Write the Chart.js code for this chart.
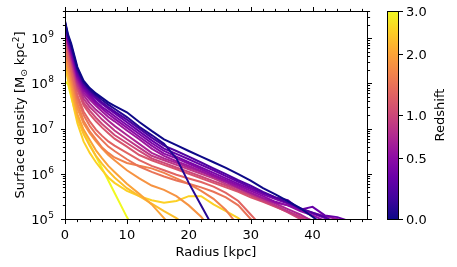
<!DOCTYPE html>
<html>
<head>
<meta charset="utf-8">
<script src="https://cdn.jsdelivr.net/npm/chart.js@4.4.1/dist/chart.umd.min.js"></script>
<style>
  html, body { margin: 0; padding: 0; background: #fff; }
</style>
</head>
<body>
<canvas id="profiles" width="457" height="267"></canvas>
<script>
// radius grid [kpc]
const radius = [0, 0.5, 1, 1.5, 2, 3, 4, 5, 6, 7, 8, 10, 12, 14, 16, 18, 20, 22, 24, 26, 28, 30, 32, 34, 36, 38, 40, 42, 44, 46];

const redshifts = [0.0, 0.07, 0.2, 0.3, 0.4, 0.5, 0.6, 0.7, 0.85, 1.0, 1.15, 1.3, 1.45, 1.6, 1.8, 2.0, 2.3, 2.5, 3.0];

// surface density [Msun / kpc^2], one array per snapshot
const sigmaZ000 = [2.4e9, 1.2e9, 7.6e8, 4.2e8, 2.3e8, 1.15e8, 7.9e7, 6.0e7, 4.8e7, 3.8e7, 3.2e7, 2.3e7, 1.4e7, 8.9e6, 5.8e6, 4.3e6, 3.2e6, 2.4e6, 1.8e6, 1.35e6, 9.8e5, 7.1e5, 4.8e5, 3.5e5, 2.5e5, 1.74e5, 1.12e5, 7.1e4];
const sigmaZ007 = [2.3e9, 1.1e9, 6.9e8, 3.8e8, 2.1e8, 1.05e8, 7.2e7, 5.5e7, 4.3e7, 3.4e7, 2.75e7, 1.8e7, 1.1e7, 7.2e6, 4.6e6, 2.2e6, 6.3e5, 2.0e5, 6.3e4];
const sigmaZ020 = [2.2e9, 1.0e9, 6.3e8, 3.5e8, 1.86e8, 9.5e7, 6.6e7, 5.0e7, 3.8e7, 3.0e7, 2.4e7, 1.58e7, 1.0e7, 6.3e6, 4.2e6, 3.2e6, 2.4e6, 1.78e6, 1.32e6, 9.8e5, 7.2e5, 5.5e5, 4.0e5, 3.0e5, 2.3e5, 1.74e5, 1.38e5, 1.1e5, 7.9e4];
const sigmaZ030 = [2.1e9, 9.3e8, 5.8e8, 3.2e8, 1.66e8, 8.7e7, 6.0e7, 4.6e7, 3.5e7, 2.75e7, 2.2e7, 1.38e7, 8.7e6, 5.5e6, 3.6e6, 2.75e6, 2.1e6, 1.58e6, 1.2e6, 8.9e5, 6.6e5, 5.0e5, 3.8e5, 3.0e5, 2.6e5, 1.6e5, 1.86e5, 1.2e5, 1.1e5, 8.9e4];
const sigmaZ040 = [2.0e9, 8.9e8, 5.2e8, 2.9e8, 1.5e8, 7.9e7, 5.5e7, 4.0e7, 3.0e7, 2.4e7, 1.9e7, 1.2e7, 7.6e6, 4.8e6, 3.2e6, 2.4e6, 1.8e6, 1.38e6, 1.05e6, 7.9e5, 6.0e5, 4.6e5, 3.5e5, 2.75e5, 2.2e5, 1.66e5, 1.32e5, 1.05e5, 7.9e4];
const sigmaZ050 = [1.9e9, 8.3e8, 4.8e8, 2.6e8, 1.38e8, 7.2e7, 5.0e7, 3.6e7, 2.75e7, 2.1e7, 1.66e7, 1.05e7, 6.6e6, 4.2e6, 2.8e6, 2.2e6, 1.66e6, 1.26e6, 9.5e5, 7.2e5, 5.5e5, 4.2e5, 3.2e5, 2.4e5, 2.0e5, 1.5e5, 1.2e5, 9.1e4];
const sigmaZ060 = [1.8e9, 7.9e8, 4.5e8, 2.4e8, 1.26e8, 6.3e7, 4.4e7, 3.2e7, 2.4e7, 1.8e7, 1.45e7, 9.1e6, 5.8e6, 3.6e6, 2.5e6, 1.9e6, 1.5e6, 1.15e6, 8.7e5, 6.6e5, 5.0e5, 3.8e5, 2.9e5, 2.3e5, 2.0e5, 1.66e5, 1.38e5, 1.15e5, 1.0e5, 7.9e4];
const sigmaZ070 = [1.74e9, 7.2e8, 4.0e8, 2.1e8, 1.1e8, 5.5e7, 3.6e7, 2.6e7, 2.0e7, 1.5e7, 1.15e7, 7.2e6, 4.6e6, 2.9e6, 2.2e6, 1.74e6, 1.38e6, 1.1e6, 8.7e5, 6.6e5, 5.0e5, 3.8e5, 2.9e5, 2.2e5, 1.66e5, 1.26e5, 8.9e4];
const sigmaZ085 = [1.58e9, 6.6e8, 3.5e8, 1.8e8, 9.5e7, 4.6e7, 3.0e7, 2.2e7, 1.58e7, 1.2e7, 9.1e6, 5.8e6, 3.8e6, 2.5e6, 2.0e6, 1.58e6, 1.26e6, 1.0e6, 7.9e5, 6.0e5, 4.7e5, 3.5e5, 2.7e5, 2.0e5, 1.5e5, 1.1e5, 7.9e4];
const sigmaZ100 = [1.45e9, 6.0e8, 3.2e8, 1.58e8, 8.3e7, 3.8e7, 2.5e7, 1.74e7, 1.26e7, 9.5e6, 7.2e6, 4.8e6, 3.2e6, 2.2e6, 1.74e6, 1.38e6, 1.1e6, 8.7e5, 6.9e5, 5.5e5, 4.3e5, 3.3e5, 2.5e5, 1.9e5, 1.41e5, 1.0e5, 7.1e4];
const sigmaZ115 = [1.26e9, 5.2e8, 2.75e8, 1.38e8, 7.2e7, 3.3e7, 2.1e7, 1.45e7, 1.05e7, 7.9e6, 6.0e6, 4.0e6, 2.6e6, 2.0e6, 1.58e6, 1.26e6, 1.0e6, 7.9e5, 6.3e5, 5.0e5, 4.0e5, 3.0e5, 2.4e5, 1.86e5, 1.45e5, 1.15e5, 9.3e4];
const sigmaZ130 = [1.0e9, 4.2e8, 2.1e8, 1.05e8, 5.5e7, 2.4e7, 1.45e7, 9.5e6, 6.9e6, 5.2e6, 4.2e6, 2.9e6, 2.0e6, 1.5e6, 1.2e6, 9.5e5, 7.9e5, 6.6e5, 5.2e5, 3.8e5, 2.5e5, 1.26e5, 6.3e4];
const sigmaZ145 = [8.3e8, 3.5e8, 1.78e8, 8.9e7, 4.6e7, 2.0e7, 1.15e7, 7.6e6, 5.5e6, 4.0e6, 3.2e6, 2.1e6, 1.45e6, 1.1e6, 8.7e5, 7.1e5, 6.0e5, 5.0e5, 4.0e5, 3.0e5, 2.0e5, 1.0e5, 5.0e4];
const sigmaZ160 = [6.3e8, 2.8e8, 1.41e8, 7.2e7, 3.6e7, 1.5e7, 8.7e6, 5.8e6, 3.8e6, 2.9e6, 2.3e6, 1.74e6, 1.5e6, 1.32e6, 1.05e6, 7.9e5, 6.0e5, 4.2e5, 2.8e5, 1.58e5, 7.1e4];
const sigmaZ180 = [5.0e8, 2.2e8, 1.12e8, 5.6e7, 2.8e7, 1.3e7, 7.9e6, 5.2e6, 3.6e6, 2.6e6, 2.0e6, 1.2e6, 7.9e5, 5.5e5, 4.4e5, 3.2e5, 2.0e5, 1.12e5, 5.0e4];
const sigmaZ200 = [4.0e8, 1.78e8, 8.9e7, 4.2e7, 2.1e7, 9.5e6, 5.6e6, 3.3e6, 2.2e6, 1.5e6, 1.1e6, 6.0e5, 3.6e5, 2.1e5, 1.05e5, 5.0e4];
const sigmaZ230 = [3.2e8, 1.41e8, 7.1e7, 3.3e7, 1.66e7, 7.6e6, 4.2e6, 2.5e6, 1.66e6, 1.15e6, 8.3e5, 4.8e5, 3.2e5, 2.2e5, 1.5e5, 1.05e5, 6.3e4];
const sigmaZ250 = [2.6e8, 1.12e8, 5.6e7, 2.6e7, 1.32e7, 5.2e6, 2.9e6, 1.8e6, 1.2e6, 8.3e5, 6.3e5, 4.2e5, 3.2e5, 2.6e5, 2.3e5, 2.5e5, 3.2e5, 3.2e5, 2.1e5, 1.5e5, 1.05e5, 6.3e4];
const sigmaZ300 = [1.12e8, 9.5e7, 5.0e7, 2.8e7, 1.9e7, 8.9e6, 4.5e6, 2.4e6, 1.32e6, 7.1e5, 3.8e5, 1.1e5, 4.0e4];

const profiles = [sigmaZ000, sigmaZ007, sigmaZ020, sigmaZ030, sigmaZ040, sigmaZ050, sigmaZ060, sigmaZ070, sigmaZ085, sigmaZ100,
                  sigmaZ115, sigmaZ130, sigmaZ145, sigmaZ160, sigmaZ180, sigmaZ200, sigmaZ230, sigmaZ250, sigmaZ300];

const xMajorTicks = [0, 10, 20, 30, 40];
const yMajorTicks = [1e5, 1e6, 1e7, 1e8, 1e9];
const yMajorExp = ['5', '6', '7', '8', '9'];
const cbTicks = [0.0, 0.5, 1.0, 2.0, 3.0];
const cbLabels = ['0.0', '0.5', '1.0', '2.0', '3.0'];
const zMax = 3.0;

// plasma colormap stops
const plasmaStops = ['#0d0887', '#41049d', '#6a00a8', '#8f0da4', '#b12a90', '#cc4778',
                     '#e16462', '#f2844b', '#fca636', '#fcce25', '#f0f921'];

function hexRgb(h) {
    return [parseInt(h.slice(1, 3), 16), parseInt(h.slice(3, 5), 16), parseInt(h.slice(5, 7), 16)];
}

function plasma(t) {
    t = Math.min(1, Math.max(0, t));
    const n = plasmaStops.length - 1;
    const i = Math.min(n - 1, Math.floor(t * n));
    const f = t * n - i;
    const a = hexRgb(plasmaStops[i]), b = hexRgb(plasmaStops[i + 1]);
    const c = a.map((v, k) => Math.round(v + (b[k] - v) * f));
    return `rgb(${c[0]},${c[1]},${c[2]})`;
}

// colour norm is log(1+z)
function zNorm(z) {
    return Math.log10(1 + z) / Math.log10(1 + zMax);
}

const FONT = '"DejaVu Sans", sans-serif';

const axisFrame = {
    id: 'axisFrame',
    afterDraw(chart) {
        const ctx = chart.ctx;
        const a = chart.chartArea;
        const xs = chart.scales.x, ys = chart.scales.y;
        const L = Math.round(a.left) + 0.5, R = Math.round(a.right) + 0.5;
        const T = Math.round(a.top) + 0.5, B = Math.round(a.bottom) + 0.5;
        ctx.save();
        ctx.strokeStyle = '#000';
        ctx.fillStyle = '#000';
        ctx.lineWidth = 1;
        ctx.strokeRect(L, T, R - L, B - T);

        const major = 4.5, minor = 2.6;
        ctx.beginPath();
        // x ticks, bottom and top
        for (let v = 0; v <= xs.max; v += 2) {
            const px = Math.round(xs.getPixelForValue(v)) + 0.5;
            const len = xMajorTicks.includes(v) ? major : minor;
            ctx.moveTo(px, B); ctx.lineTo(px, B + len);
            ctx.moveTo(px, T); ctx.lineTo(px, T - len);
        }
        // y ticks, left and right
        for (let e = 5; e <= 9; e++) {
            for (let m = 1; m <= 9; m++) {
                const v = m * Math.pow(10, e);
                if (v > ys.max * 1.0001) continue;
                const py = Math.round(ys.getPixelForValue(v)) + 0.5;
                const len = m === 1 ? major : minor;
                ctx.moveTo(L, py); ctx.lineTo(L - len, py);
                ctx.moveTo(R, py); ctx.lineTo(R + len, py);
            }
        }
        ctx.stroke();

        // x tick labels
        ctx.font = '13px ' + FONT;
        ctx.textAlign = 'center';
        ctx.textBaseline = 'alphabetic';
        xMajorTicks.forEach(v => {
            ctx.fillText(String(v), xs.getPixelForValue(v), 239);
        });

        // y tick labels 10^n
        yMajorTicks.forEach((v, i) => {
            const py = ys.getPixelForValue(v);
            ctx.font = '9px ' + FONT;
            ctx.textAlign = 'right';
            ctx.fillText(yMajorExp[i], 54, py - 1);
            const ew = ctx.measureText(yMajorExp[i]).width;
            ctx.font = '13px ' + FONT;
            ctx.fillText('10', 54 - ew - 0.5, py + 4.7);
        });

        // axis titles
        ctx.font = '13px ' + FONT;
        ctx.textAlign = 'center';
        ctx.fillText('Radius [kpc]', (a.left + a.right) / 2, 256);

        // y title, rotated, with mathtext-like sub/superscripts
        const parts = [
            { t: 'Surface density [M', f: 13, dy: 0 },
            { t: '\u2299', f: 9, dy: 3 },
            { t: ' kpc', f: 13, dy: 0 },
            { t: '2', f: 9, dy: -5 },
            { t: ']', f: 13, dy: 0 }
        ];
        let total = 0;
        parts.forEach(p => { ctx.font = p.f + 'px ' + FONT; p.w = ctx.measureText(p.t).width; total += p.w; });
        ctx.save();
        ctx.translate(24, (a.top + a.bottom) / 2);
        ctx.rotate(-Math.PI / 2);
        ctx.textAlign = 'left';
        let cx = -total / 2;
        parts.forEach(p => {
            ctx.font = p.f + 'px ' + FONT;
            ctx.fillText(p.t, cx, p.dy);
            cx += p.w;
        });
        ctx.restore();

        // colorbar
        const cbL = 387, cbW = 11, cbT = a.top, cbB = a.bottom;
        const grad = ctx.createLinearGradient(0, cbB, 0, cbT);
        plasmaStops.forEach((c, i) => grad.addColorStop(i / (plasmaStops.length - 1), c));
        ctx.fillStyle = grad;
        ctx.fillRect(cbL, cbT, cbW, cbB - cbT);
        ctx.strokeStyle = '#000';
        ctx.lineWidth = 1;
        ctx.strokeRect(cbL + 0.5, Math.round(cbT) + 0.5, cbW, Math.round(cbB - cbT));
        ctx.fillStyle = '#000';
        ctx.font = '13px ' + FONT;
        ctx.textAlign = 'left';
        ctx.beginPath();
        cbTicks.forEach((z, i) => {
            const py = cbB - zNorm(z) * (cbB - cbT);
            const yy = Math.round(py) + 0.5;
            ctx.moveTo(cbL + cbW + 0.5, yy); ctx.lineTo(cbL + cbW + 5, yy);
            ctx.fillText(cbLabels[i], 406, py + 4.7);
        });
        ctx.stroke();

        ctx.save();
        ctx.translate(443.5, (cbT + cbB) / 2);
        ctx.rotate(-Math.PI / 2);
        ctx.textAlign = 'center';
        ctx.fillText('Redshift', 0, 0);
        ctx.restore();

        ctx.restore();
    }
};

const datasets = profiles.map((vals, i) => ({
    label: 'z = ' + redshifts[i],
    data: vals.map((v, j) => ({ x: radius[j], y: v })),
    borderColor: plasma(zNorm(redshifts[i])),
    borderWidth: 2,
    pointRadius: 0,
    fill: false,
    tension: 0
}));

new Chart(document.getElementById('profiles'), {
    type: 'line',
    data: { datasets: datasets },
    options: {
        responsive: false,
        animation: false,
        devicePixelRatio: 1,
        layout: { padding: { left: 65, right: 90, top: 11, bottom: 48 } },
        scales: {
            x: { type: 'linear', min: 0, max: 48.8, display: false },
            y: { type: 'logarithmic', min: 1e5, max: 4e9, display: false }
        },
        plugins: { legend: { display: false }, tooltip: { enabled: false } }
    },
    plugins: [axisFrame]
});
</script>
</body>
</html>
